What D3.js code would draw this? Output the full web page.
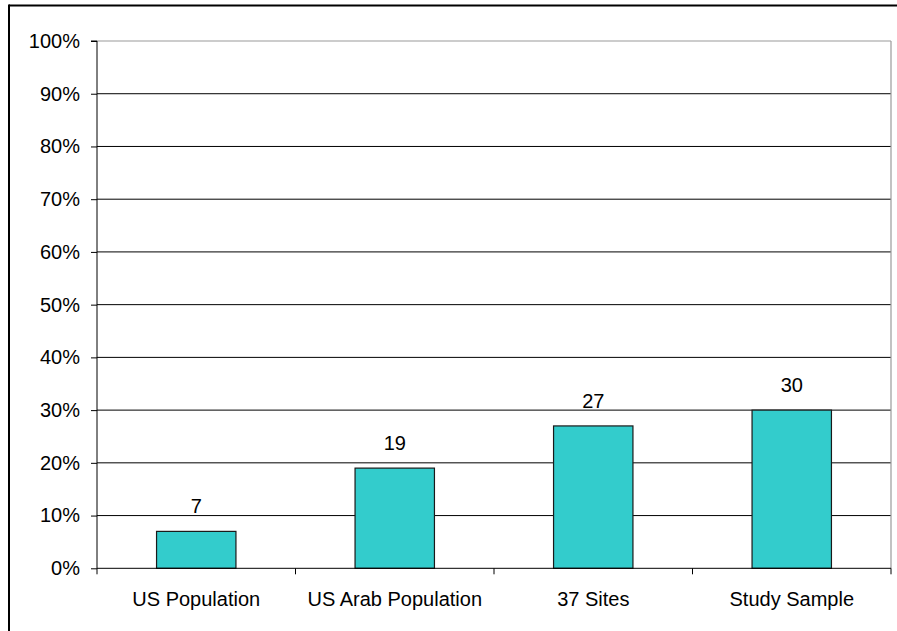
<!DOCTYPE html>
<html>
<head>
<meta charset="utf-8">
<script src="https://cdn.jsdelivr.net/npm/d3@7/dist/d3.min.js"></script>
<style>
  html, body { margin: 0; padding: 0; background: #fff; }
  svg { display: block; font-family: "Liberation Sans", Arial, sans-serif; }
</style>
</head>
<body>
<svg id="chart" width="897" height="631"></svg>
<script>
// Share of each group (percent)
const categories = ["US Population", "US Arab Population", "37 Sites", "Study Sample"];
const values = [7, 19, 27, 30];
const yTicks = [0, 10, 20, 30, 40, 50, 60, 70, 80, 90, 100];
const yTickLabels = yTicks.map(v => v + "%");

const svg = d3.select("#chart");
const W = 897, H = 631;
const plot = { left: 97, right: 891, top: 41, bottom: 568.3 };

const x = d3.scaleBand()
  .domain(categories)
  .range([plot.left, plot.right])
  .paddingInner(0.6)
  .paddingOuter(0.3);

const y = d3.scaleLinear()
  .domain([0, 100])
  .range([plot.bottom, plot.top]);

// Outer frame (top and left edges)
svg.append("line")
  .attr("x1", 9).attr("x2", W).attr("y1", 5.5).attr("y2", 5.5)
  .attr("stroke", "#000").attr("stroke-width", 2);
svg.append("line")
  .attr("x1", 9).attr("x2", 9).attr("y1", 4.5).attr("y2", H)
  .attr("stroke", "#000").attr("stroke-width", 2);

// Horizontal gridlines
svg.append("g")
  .selectAll("line")
  .data(yTicks.filter(t => t > 0 && t < 100))
  .join("line")
  .attr("x1", plot.left).attr("x2", plot.right)
  .attr("y1", d => y(d)).attr("y2", d => y(d))
  .attr("stroke", "#000").attr("stroke-width", 1);

// Plot area border (top and right)
svg.append("line")
  .attr("x1", plot.left).attr("x2", plot.right)
  .attr("y1", y(100)).attr("y2", y(100))
  .attr("stroke", "#9a9a9a").attr("stroke-width", 1.2);
svg.append("line")
  .attr("x1", plot.right).attr("x2", plot.right)
  .attr("y1", y(100)).attr("y2", plot.bottom)
  .attr("stroke", "#9a9a9a").attr("stroke-width", 1.2);

// Bars
svg.append("g")
  .selectAll("rect")
  .data(values)
  .join("rect")
  .attr("x", (d, i) => x(categories[i]))
  .attr("width", x.bandwidth())
  .attr("y", d => y(d))
  .attr("height", d => y(0) - y(d))
  .attr("fill", "#33CCCC")
  .attr("stroke", "#1a1a1a")
  .attr("stroke-width", 1.2);

// Value labels
svg.append("g")
  .selectAll("text")
  .data(values)
  .join("text")
  .attr("x", (d, i) => x(categories[i]) + x.bandwidth() / 2)
  .attr("y", d => y(d) - 18)
  .attr("text-anchor", "middle")
  .attr("font-size", 20)
  .attr("fill", "#000")
  .text(d => d3.format("d")(d));

// Y axis
const yAxis = d3.axisLeft(y)
  .tickValues(yTicks)
  .tickFormat((d, i) => yTickLabels[i])
  .tickSize(6)
  .tickPadding(11);
const gy = svg.append("g")
  .attr("transform", `translate(${plot.left},0)`)
  .call(yAxis);
gy.select(".domain").attr("stroke", "#000").attr("d", `M-6,${y(100)}H0V${plot.bottom}`);
gy.selectAll(".tick line").attr("stroke", "#000");
gy.selectAll(".tick text")
  .attr("font-size", 20)
  .attr("font-family", "'Liberation Sans', Arial, sans-serif")
  .attr("fill", "#000");

// X axis with ticks on category boundaries
const xAxis = d3.axisBottom(x).tickSize(0).tickPadding(24);
const gx = svg.append("g")
  .attr("transform", `translate(0,${plot.bottom})`)
  .call(xAxis);
gx.select(".domain").attr("stroke", "#000").attr("d", `M${plot.left},0H${plot.right}`);
gx.selectAll(".tick text")
  .attr("font-size", 20)
  .attr("font-family", "'Liberation Sans', Arial, sans-serif")
  .attr("fill", "#000");

const step = x.step();
const boundaries = d3.range(categories.length + 1).map(i => plot.left + i * step);
gx.append("g")
  .selectAll("line")
  .data(boundaries)
  .join("line")
  .attr("x1", d => d).attr("x2", d => d)
  .attr("y1", 0).attr("y2", 6)
  .attr("stroke", "#000");
</script>
</body>
</html>
